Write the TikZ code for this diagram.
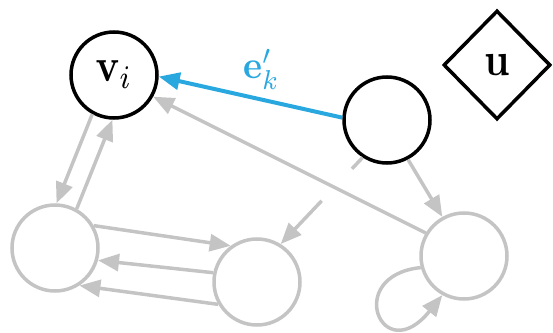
\documentclass[tikz,border=0pt]{standalone}
\usepackage{amsmath,amssymb}
\usetikzlibrary{arrows.meta,calc,shapes.geometric}
\definecolor{edgegray}{RGB}{196,196,196}
\definecolor{msgblue}{RGB}{41,168,224}
\newcommand{\bigmath}[3]{\scalebox{#1}[#2]{$#3$}}

\begin{document}
\begin{tikzpicture}[x=1pt,y=1pt,>={Triangle[length=21pt,width=17pt]},
  vnode/.style={circle,draw=black,line width=3.5pt,minimum size=86pt,inner sep=0pt},
  gnode/.style={circle,draw=edgegray,line width=3.5pt,minimum size=86pt,inner sep=0pt},
  gedge/.style={->,draw=edgegray,line width=3.5pt},
  medge/.style={->,draw=msgblue,line width=4pt}]
\useasboundingbox (0,0) rectangle (553,332);
% receiving node, sender and global node
\node[vnode] (vi) at (114,257) {\bigmath{3.9}{4.7}{\mathbf{v}_i}};
\node[vnode] (vk) at (387,212) {};
\node[diamond,draw,line width=3.5pt,minimum width=107pt,minimum height=109pt,inner sep=0pt] (u) at (497,267) {\bigmath{4}{4.7}{\mathbf{u}}};
% faded rest of the graph
\foreach \n/\p in {va/{(55,84)},vb/{(257,50)},vc/{(464,76)}}
  \node[gnode] (\n) at \p {};
\draw[gedge] (vi.241) -- (va.88);
\draw[gedge] (va.61) -- (vi.268);
\draw[gedge] (va.30) -- (vb.126);
\draw[gedge] (vb.168) -- (va.344);
\draw[gedge] (vb.210) -- (va.303);
\draw[gedge] (vk.298) -- (vc.119);
% edge to vb, broken where the long edge passes
\draw[edgegray,line width=3.5pt] (vk.237) -- ($(vk.237)!0.13!(vb.58)$);
\draw[gedge] ($(vk.237)!0.5!(vb.58)$) -- (vb.58);
\draw[gedge] (vc.149) -- (vi.331);
% self loop
\draw[gedge] (vc.195) .. controls +(-78,-8) and +(-60,-75) .. (vc.241);
% updated edge
\draw[medge] (vk.177) -- node[pos=0.44,above=6pt,inner sep=2pt,text=msgblue] (ek) {\bigmath{3.6}{3.9}{\mathbf{e}'_k}} (vi.358);
\end{tikzpicture}
\end{document}
